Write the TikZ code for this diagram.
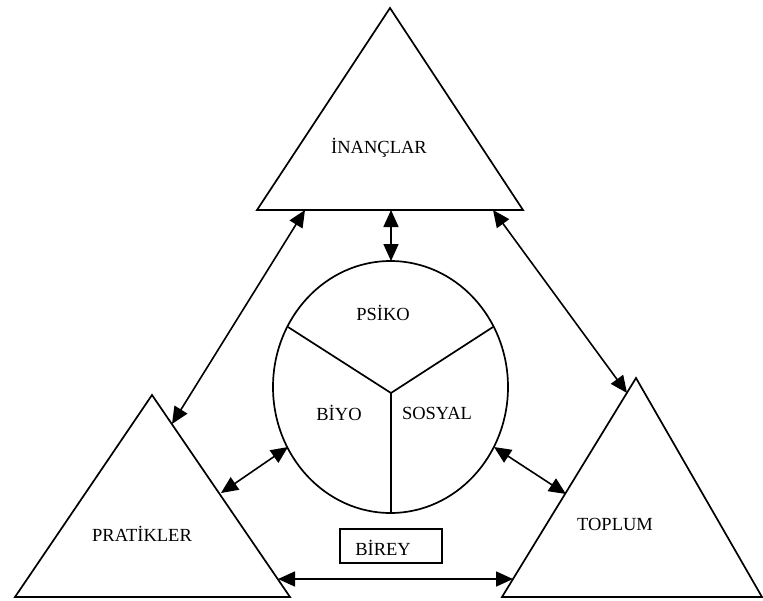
\documentclass[tikz,border=0pt]{standalone}
\usepackage{fontspec}
\setmainfont{Liberation Serif}
\usetikzlibrary{arrows.meta}
\begin{document}
\begin{tikzpicture}[x=1pt,y=-1pt,
  shape line/.style={line width=1.7pt, line join=miter},
  link/.style={line width=1.6pt, {Triangle[length=17pt,width=15pt]}-{Triangle[length=17pt,width=15pt]}},
  label/.style={font=\fontsize{18.5}{22}\selectfont, inner sep=0pt},
  tag/.style={draw, line width=1.5pt, minimum width=102pt, minimum height=34pt, inner sep=0pt}]
\useasboundingbox (0,0) rectangle (763,600);

% three triangles
\coordinate (inTop) at (390,8);
\coordinate (inL) at (257,210);
\coordinate (inR) at (523,210);
\coordinate (prTop) at (152,395);
\coordinate (prL) at (15,597);
\coordinate (prR) at (290,597);
\coordinate (toTop) at (636,378);
\coordinate (toL) at (502,597);
\coordinate (toR) at (762,597);
\draw[shape line] (inTop) -- (inL) -- (inR) -- cycle;
\draw[shape line] (prTop) -- (prL) -- (prR) -- cycle;
\draw[shape line] (toTop) -- (toL) -- (toR) -- cycle;

% the individual: ellipse split in three
\coordinate (ctr) at (391,393);
\coordinate (spL) at (288,327);
\coordinate (spR) at (493,327);
\coordinate (spB) at (391,513);
\draw[shape line] (390.5,387) ellipse [x radius=117.5, y radius=126];
\draw[shape line] (spL) -- (ctr) -- (spR) (ctr) -- (spB);

% labels
\node[label] (inanc) at (379,148) {İNANÇLAR};
\node[label] (prat) at (142,534) {PRATİKLER};
\node[label] (topl) at (615,524) {TOPLUM};
\node[label] (psiko) at (383,313) {PSİKO};
\node[label] (biyo) at (339,413) {BİYO};
\node[label] (sosyal) at (437,413) {SOSYAL};
\node[tag] (birey) at (391,546) {};
\node[label] (bireyt) at (383,548) {BİREY};

% connector ends
\coordinate (a1s) at (391,210); \coordinate (a1e) at (391,261);
\coordinate (a2s) at (305,210); \coordinate (a2e) at (172,424);
\coordinate (a3s) at (493,210); \coordinate (a3e) at (627,393);
\coordinate (a4s) at (288,447); \coordinate (a4e) at (221,493);
\coordinate (a5s) at (494,447); \coordinate (a5e) at (566,494);
\coordinate (a6s) at (278,579); \coordinate (a6e) at (513,579);

\draw[link] (a1s) -- (a1e);
\draw[link] (a2s) -- (a2e);
\draw[link] (a3s) -- (a3e);
\draw[link] (a4s) -- (a4e);
\draw[link] (a5s) -- (a5e);
\draw[link] (a6s) -- (a6e);
\end{tikzpicture}
\end{document}
